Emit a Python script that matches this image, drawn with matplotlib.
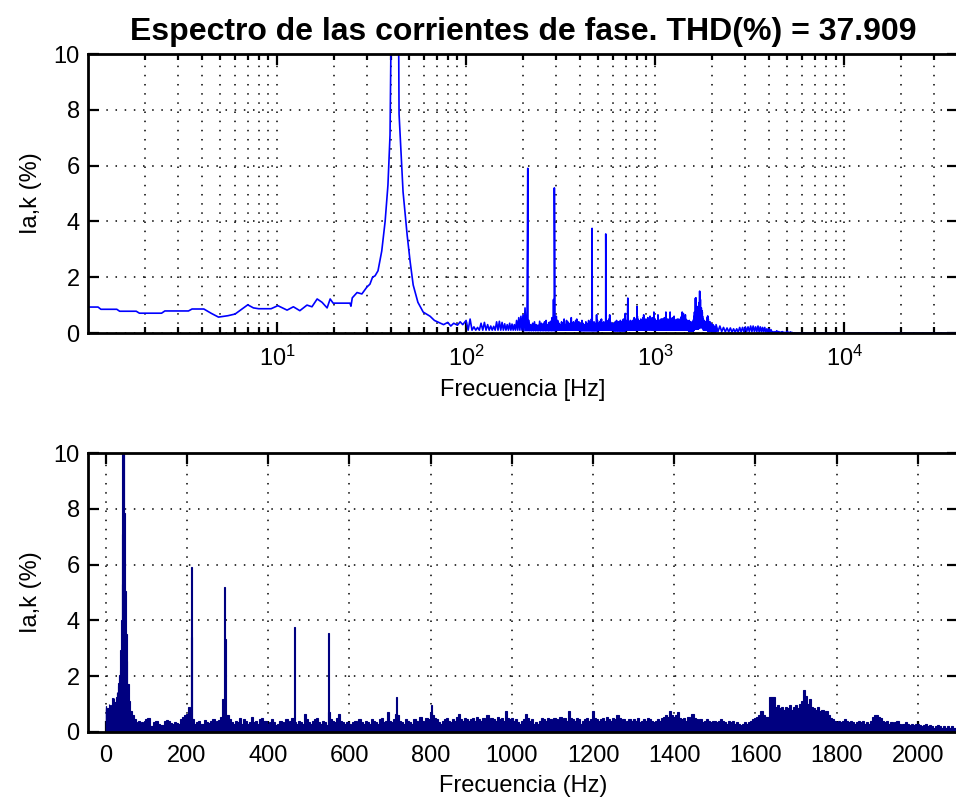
import numpy as np
import matplotlib
matplotlib.use('Agg')
import matplotlib.pyplot as plt
from matplotlib.ticker import FixedLocator, LogLocator, NullFormatter, LogFormatterSciNotation

plt.rcParams['font.family'] = ['Liberation Sans', 'DejaVu Sans']
plt.rcParams['mathtext.fontset'] = 'custom'
plt.rcParams['mathtext.rm'] = 'Liberation Sans'
plt.rcParams['mathtext.it'] = 'Liberation Sans'
plt.rcParams['mathtext.bf'] = 'Liberation Sans:bold'

# ---- spectrum (Hz, %) ----
# 1..100 Hz, from the log plot
f_low = [1.0, 1.13, 1.17, 1.42, 1.47, 1.8, 1.87, 2.45, 2.55, 3.4, 3.55, 4.1,
         4.5, 4.9, 5.5, 6.0, 6.5, 7.0, 7.5, 8.0, 9.3, 10.1, 11.3, 12.2, 13.2,
         14.4, 15.3, 16.3, 17.3, 18.4, 19.1, 19.8, 24.3, 24.6, 25.0, 26.5,
         28.1, 29.9, 31.0, 32.0, 33.0, 34.2, 35.8, 37.3, 38.6, 39.6, 40.7,
         42.0, 43.6, 44.2, 46.4, 48.8, 50.6, 52.5, 55.6, 59.3, 64.5, 68.0,
         72.8, 76.0, 80.0, 83.0, 86.0, 90.0, 93.0, 96.0]
a_low = [0.93, 0.93, 0.85, 0.85, 0.78, 0.78, 0.71, 0.71, 0.79, 0.79, 0.86, 0.86,
         0.7, 0.57, 0.62, 0.68, 0.85, 1.01, 0.9, 0.87, 0.87, 0.98, 0.82, 0.94, 0.8,
         1.0, 0.94, 1.22, 1.1, 0.9, 1.22, 1.07, 1.07, 0.96, 1.26, 1.45,
         1.4, 1.65, 1.75, 2.0, 2.05, 2.23, 2.94, 4.0, 5.3, 7.1, 15.0,
         100.0, 15.0, 7.85, 5.06, 3.5, 2.55, 1.72, 1.1, 0.75, 0.6, 0.45,
         0.36, 0.3, 0.38, 0.25, 0.35, 0.28, 0.4, 0.3]

# 100..2095 Hz in 5 Hz bins (upper edge of the noise floor)
f_mid_start = 100
f_mid_step = 5
a_mid = [
    0.45, 0.5, 0.22, 0.2, 0.35, 0.38, 0.3, 0.25, 0.24, 0.4, 0.42, 0.38, 0.33, 0.3, 0.35, 0.32, 0.3, 0.45, 0.55, 0.6,
    0.65, 0.9, 0.5, 0.45, 0.3, 0.35, 0.4, 0.3, 0.28, 0.42, 0.35, 0.32, 0.4, 0.45, 0.3, 0.38, 0.42, 0.55, 1.2, 0.6,
    0.6, 0.45, 0.35, 0.3, 0.4, 0.35, 0.5, 0.3, 0.45, 0.4, 0.3, 0.35, 0.55, 0.35, 0.4, 0.3, 0.45, 0.5, 0.38, 0.4,
    0.3, 0.35, 0.45, 0.35, 0.25, 0.3, 0.4, 0.35, 0.3, 0.45, 0.35, 0.4, 0.5, 0.35, 0.3, 0.4, 0.35, 0.3, 0.65, 0.45,
    0.35, 0.3, 0.4, 0.45, 0.5, 0.35, 0.3, 0.4, 0.35, 0.25, 0.7, 0.45, 0.4, 0.35, 0.5, 0.65, 0.4, 0.35, 0.3, 0.35,
    0.3, 0.25, 0.35, 0.4, 0.3, 0.45, 0.35, 0.3, 0.4, 0.35, 0.3, 0.45, 0.4, 0.35, 0.3, 0.45, 0.5, 0.35, 0.4, 0.7,
    0.4, 0.35, 0.45, 0.65, 0.6, 0.4, 0.35, 0.3, 0.45, 0.4, 0.35, 0.3, 0.45, 0.4, 0.35, 0.55, 0.4, 0.35, 0.5, 0.45,
    0.7, 0.6, 0.5, 0.45, 0.35, 0.3, 0.4, 0.45, 0.5, 0.4, 0.35, 0.45, 0.4, 0.55, 0.65, 0.45, 0.4, 0.5, 0.45, 0.4,
    0.45, 0.5, 0.4, 0.55, 0.45, 0.4, 0.5, 0.45, 0.6, 0.4, 0.5, 0.45, 0.4, 0.55, 0.45, 0.5, 0.4, 0.75, 0.5, 0.45,
    0.5, 0.4, 0.45, 0.35, 0.3, 0.4, 0.45, 0.65, 0.5, 0.4, 0.45, 0.3, 0.35, 0.3, 0.4, 0.5, 0.45, 0.4, 0.5, 0.45,
    0.4, 0.5, 0.45, 0.4, 0.55, 0.45, 0.5, 0.4, 0.75, 0.5, 0.45, 0.4, 0.5, 0.45, 0.3, 0.4, 0.45, 0.5, 0.4, 0.45,
    0.75, 0.5, 0.45, 0.4, 0.45, 0.5, 0.4, 0.55, 0.45, 0.4, 0.5, 0.45, 0.6, 0.5, 0.4, 0.45, 0.35, 0.4, 0.45, 0.4,
    0.45, 0.4, 0.5, 0.35, 0.4, 0.45, 0.4, 0.5, 0.45, 0.4, 0.35, 0.4, 0.45, 0.4, 0.5, 0.55, 0.6, 0.55, 0.75, 0.6,
    0.55, 0.6, 0.7, 0.5, 0.45, 0.5, 0.4, 0.55, 0.45, 0.65, 0.5, 0.45, 0.4, 0.45, 0.35, 0.4, 0.45, 0.4, 0.35, 0.4,
    0.4, 0.35, 0.4, 0.45, 0.4, 0.35, 0.3, 0.4, 0.35, 0.4, 0.3, 0.35, 0.3, 0.25, 0.3, 0.35, 0.3, 0.35, 0.4, 0.45,
    0.5, 0.55, 0.6, 0.75, 0.6, 0.55, 0.55, 1.25, 1.25, 1.25, 0.9, 0.95, 0.85, 0.9, 0.8, 0.9, 0.85, 0.95, 0.8, 0.9,
    0.95, 0.85, 1.0, 1.1, 1.5, 1.3, 1.0, 1.2, 0.9, 0.85, 0.8, 0.9, 0.75, 0.8, 0.7, 0.75, 0.6, 0.5, 0.45, 0.4,
    0.35, 0.4, 0.35, 0.4, 0.45, 0.4, 0.35, 0.4, 0.35, 0.3, 0.35, 0.4, 0.35, 0.4, 0.3, 0.35, 0.3, 0.4, 0.55, 0.6,
    0.6, 0.55, 0.5, 0.4, 0.35, 0.4, 0.3, 0.35, 0.3, 0.35, 0.4, 0.3, 0.25, 0.3, 0.35, 0.3, 0.25, 0.3, 0.25, 0.3,
    0.3, 0.25, 0.2, 0.25, 0.3, 0.2, 0.25, 0.2, 0.15, 0.2, 0.25, 0.2, 0.15, 0.2, 0.15, 0.2, 0.15, 0.2, 0.15, 0.15,
]
# lowest level inside each 100 Hz block (seen only in the log plot)
a_mid_min = [0.1, 0.08, 0.1, 0.08, 0.1, 0.08, 0.1, 0.1, 0.12, 0.1,
             0.1, 0.1, 0.1, 0.1, 0.08, 0.15, 0.2, 0.1, 0.06, 0.05]

# harmonics of the 42 Hz fundamental
f_harm = [211, 212, 293, 294, 464, 548, 717, 802]
a_harm = [3.4, 5.9, 5.2, 3.35, 3.75, 3.55, 1.25, 0.95]

# above 2100 Hz
f_high = [2100, 2150, 2200, 2250, 2300, 2350, 2400, 2450, 2500, 2550, 2600, 2650,
          2700, 2750, 2800, 2850, 2900, 2950, 3000, 3050, 3100, 3150, 3200, 3250,
          3300, 3350, 3400, 3450, 3500, 3550, 3600, 3650, 3700, 3750, 3800, 3850,
          3900, 3950, 4000, 4050, 4100, 4150, 4200, 4250, 4300, 4350, 4400, 4450,
          4500, 4550, 4600, 4650, 4700, 4750, 4800, 4850, 4900, 4950, 5000, 5050,
          5100, 5150, 5200, 5250, 5300, 5350, 5400, 8000, 40000]
a_high = [0.3, 0.05, 0.25, 0.05, 0.2, 0.04, 0.18, 0.04, 0.18, 0.03, 0.15, 0.03,
          0.15, 0.03, 0.2, 0.04, 0.2, 0.04, 0.22, 0.05, 0.22, 0.05, 0.25, 0.05,
          0.25, 0.05, 0.22, 0.05, 0.25, 0.04, 0.22, 0.04, 0.2, 0.04, 0.2, 0.03,
          0.15, 0.03, 0.15, 0.02, 0.12, 0.02, 0.05, 0.01, 0.05, 0.01, 0.08, 0.01,
          0.05, 0.01, 0.03, 0.01, 0.05, 0.0, 0.03, 0.0, 0.02, 0.0, 0.06, 0.0,
          0.02, 0.0, 0.04, 0.0, 0.02, 0.0, 0.0, 0.0, 0.0]

titulo = 'Espectro de las corrientes de fase. THD(%) = 37.909'

# ---- assemble ----
f_mid = f_mid_start + f_mid_step * np.arange(len(a_mid))
f_mid_lo = f_mid + f_mid_step / 2
a_mid_lo = np.repeat(a_mid_min, 20)

f_all = np.concatenate([f_low, f_mid, f_mid_lo, f_harm, f_high])
a_all = np.concatenate([a_low, a_mid, a_mid_lo, a_harm, a_high])
order = np.argsort(f_all, kind='stable')
f_all = f_all[order]
a_all = a_all[order]

fig = plt.figure(figsize=(9.56, 7.99), dpi=100)
ax1 = fig.add_axes([88 / 956, 1 - 333 / 799, 870 / 956, 279 / 799])
ax2 = fig.add_axes([88 / 956, 1 - 732 / 799, 870 / 956, 279 / 799])

grid_kw = dict(color='k', linestyle=(0, (1, 5)), linewidth=1.1)
navy = '#000080'

# top: log spectrum
ax1.plot(f_all, a_all, color=(0, 0, 1), linewidth=1.2)
ax1.set_xscale('log')
ax1.set_xlim(1, 40000)
ax1.set_ylim(0, 10)
ax1.xaxis.set_major_locator(FixedLocator([10, 100, 1000, 10000]))
ax1.xaxis.set_major_formatter(LogFormatterSciNotation())
ax1.xaxis.set_minor_locator(LogLocator(base=10, subs=np.arange(2, 10), numticks=20))
ax1.xaxis.set_minor_formatter(NullFormatter())
ax1.set_yticks([0, 2, 4, 6, 8, 10])
ax1.grid(True, which='major', **grid_kw)
ax1.grid(True, which='minor', axis='x', **grid_kw)
ax1.set_xlabel('Frecuencia [Hz]', fontsize=17, labelpad=6)
ax1.set_ylabel('Ia,k (%)', fontsize=17, labelpad=8)
ax1.set_title(titulo, fontsize=23, fontweight='bold', pad=10)

# bottom: bars
f_low_arr = np.array(f_low)
w_low = np.diff(np.append(f_low_arr, f_mid_start))
ax2.bar(f_low_arr, a_low, width=w_low * 1.15, align='edge', color=navy,
        edgecolor=navy, linewidth=0.8)
ax2.bar(f_low_arr[0] / 2, a_low[0], width=f_low_arr[0], color=navy, edgecolor=navy, linewidth=0.8)
ax2.bar(f_mid, a_mid, width=f_mid_step * 1.1, color=navy, edgecolor=navy, linewidth=0.8)
ax2.bar(f_harm, a_harm, width=2.5, color=navy, edgecolor=navy, linewidth=0.8)
ax2.set_xlim(-44, 2099)
ax2.set_ylim(0, 10)
ax2.set_xticks(np.arange(0, 2001, 200))
ax2.set_yticks([0, 2, 4, 6, 8, 10])
ax2.grid(True, which='major', **grid_kw)
ax2.set_xlabel('Frecuencia (Hz)', fontsize=17, labelpad=6)
ax2.set_ylabel('Ia,k (%)', fontsize=17, labelpad=8)

for ax in (ax1, ax2):
    ax.set_axisbelow(True)
    for s in ax.spines.values():
        s.set_linewidth(2)
    ax.tick_params(which='both', direction='in', top=True, right=True,
                   labelsize=17, width=1.6)
    ax.tick_params(which='major', length=8)
    ax.tick_params(which='minor', length=4.5)
    ax.tick_params(axis='x', pad=9)
    ax.tick_params(axis='y', pad=6)

fig.savefig('out.png', dpi=100)
